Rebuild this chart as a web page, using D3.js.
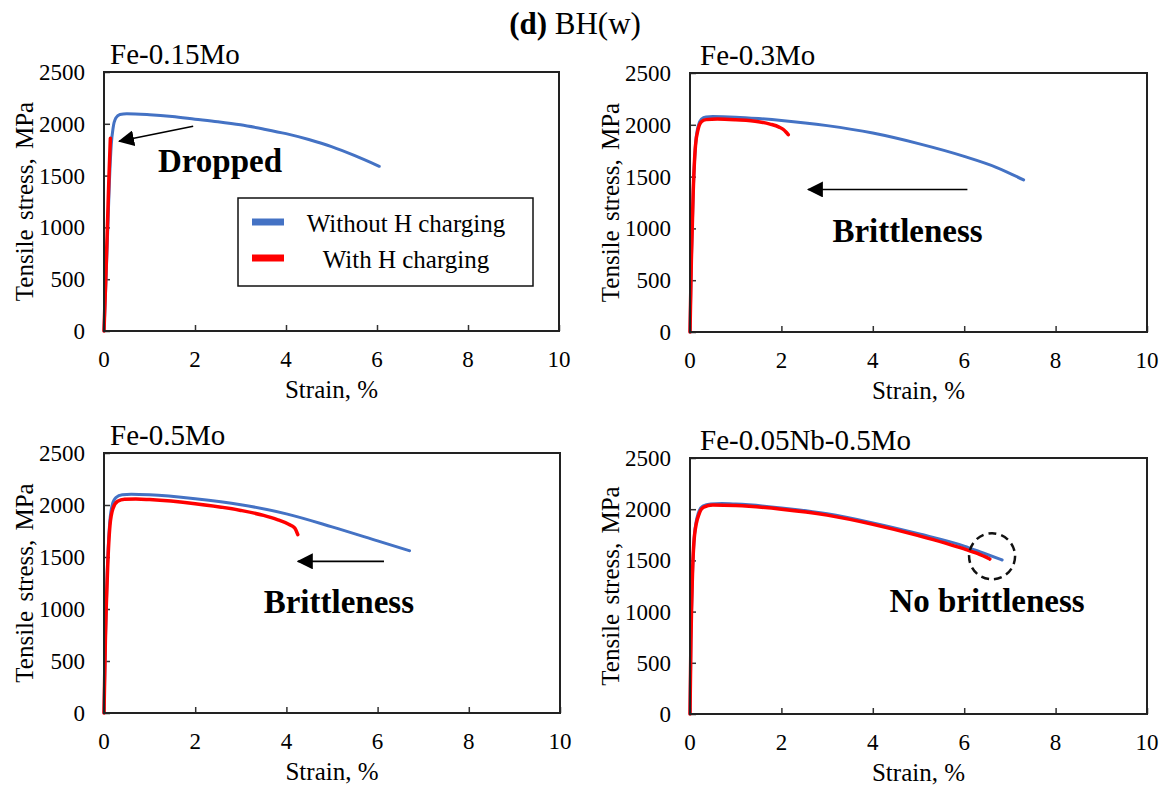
<!DOCTYPE html>
<html><head><meta charset="utf-8">
<script src="https://cdn.jsdelivr.net/npm/d3@7"></script>
<style>body{margin:0;background:#fff}svg{display:block}</style>
</head><body><svg id="c" width="1169" height="792"></svg>
<script>
// ---- data ----
const strainTicks = [0, 2, 4, 6, 8, 10];
const stressTicks = [0, 500, 1000, 1500, 2000, 2500];
const panelTitles = ["Fe-0.15Mo", "Fe-0.3Mo", "Fe-0.5Mo", "Fe-0.05Nb-0.5Mo"];
const seriesNames = ["Without H charging", "With H charging"];
const seriesColors = ["#4472C4", "#FF0000"];

// [strain %, stress MPa]
const mo015Without = [[0,0],[0.04,450],[0.08,950],[0.12,1450],[0.16,1800],[0.2,1960],[0.26,2055],[0.35,2090],[0.5,2098],[1,2088],[1.5,2070],[2,2045],[2.5,2020],[3,1990],[3.5,1950],[4,1905],[4.5,1848],[5,1780],[5.5,1695],[6.05,1590]];
const mo015With = [[0,0],[0.04,520],[0.08,1080],[0.11,1500],[0.14,1860]];

const mo03Without = [[0,0],[0.03,700],[0.07,1350],[0.12,1800],[0.18,1990],[0.25,2055],[0.35,2076],[0.5,2080],[1,2074],[1.5,2060],[2,2042],[3,1992],[4,1920],[5,1818],[6,1695],[6.7,1590],[7.3,1468]];
const mo03With = [[0,0],[0.03,700],[0.07,1350],[0.12,1800],[0.18,1960],[0.25,2030],[0.35,2050],[0.6,2055],[1,2048],[1.5,2030],[1.75,2007],[1.95,1978],[2.05,1952],[2.1,1930],[2.15,1905]];

const mo05Without = [[0,0],[0.03,700],[0.07,1350],[0.12,1800],[0.18,2000],[0.26,2070],[0.4,2098],[0.6,2103],[1,2098],[2,2060],[3,2003],[4,1915],[5,1790],[6,1655],[6.7,1560]];
const mo05With = [[0,0],[0.03,700],[0.08,1400],[0.13,1800],[0.2,1970],[0.3,2035],[0.45,2055],[0.7,2058],[1,2052],[2,2012],[3,1948],[3.5,1900],[3.8,1860],[4.05,1815],[4.18,1780],[4.25,1715]];

const nbMoWithout = [[0,0],[0.02,700],[0.05,1300],[0.1,1760],[0.18,1960],[0.28,2030],[0.45,2052],[0.7,2055],[1,2050],[2,2013],[3,1955],[4,1866],[5,1760],[6,1640],[6.4,1575],[6.83,1504]];
const nbMoWith = [[0,0],[0.02,700],[0.05,1300],[0.1,1750],[0.2,1955],[0.3,2020],[0.5,2040],[1,2035],[2,2000],[3,1942],[4,1852],[5,1742],[6,1612],[6.3,1565],[6.56,1513]];

// annotations (data units)
const notes = [
  {text: "Dropped", at: [2.55, 1530], arrow: [[1.96, 1977], [0.33, 1831]]},
  {text: "Brittleness", at: [4.76, 872], arrow: [[6.07, 1376], [2.58, 1376]]},
  {text: "Brittleness", at: [5.15, 965], arrow: [[6.14, 1458], [4.25, 1458]]},
  {text: "No brittleness", at: [6.5, 1000], circle: [6.61, 1540]}
];

// ---- layout ----
const boxes = [
  {left: 104, right: 559, top: 72, bottom: 331},
  {left: 690, right: 1147, top: 73, bottom: 332},
  {left: 104, right: 560, top: 453, bottom: 713},
  {left: 690, right: 1147, top: 458, bottom: 714}
];
const seriesByPanel = [
  [mo015Without, mo015With],
  [mo03Without, mo03With],
  [mo05Without, mo05With],
  [nbMoWithout, nbMoWith]
];

const FONT = "Liberation Serif";
const svg = d3.select("#c");
svg.append("rect").attr("width", 1169).attr("height", 792).attr("fill", "#fff");

const defs = svg.append("defs");
defs.append("marker").attr("id", "ah").attr("markerUnits", "userSpaceOnUse")
  .attr("viewBox", "0 0 16 16").attr("markerWidth", 16).attr("markerHeight", 16)
  .attr("refX", 15).attr("refY", 8).attr("orient", "auto")
  .append("path").attr("d", "M0,0 L16,8 L0,16 Z").attr("fill", "#000");

function txt(sel) { return sel.append("text").attr("font-family", FONT).attr("fill", "#000"); }

// main title
const t = txt(svg).attr("x", 575).attr("y", 34).attr("text-anchor", "middle").attr("font-size", 31);
t.append("tspan").attr("font-weight", "bold").text("(d)");
t.append("tspan").text(" BH(w)");

boxes.forEach((b, i) => {
  const x = d3.scaleLinear().domain([0, 10]).range([b.left, b.right]);
  const y = d3.scaleLinear().domain([0, 2500]).range([b.bottom, b.top]);
  const g = svg.append("g");

  // ticks inside
  g.append("g").attr("transform", `translate(0,${b.bottom})`)
    .call(d3.axisTop(x).tickValues(strainTicks).tickSize(6).tickFormat(""))
    .call(a => a.select(".domain").remove())
    .selectAll("line").attr("stroke", "#333").attr("stroke-width", 1.5);
  g.append("g").attr("transform", `translate(${b.left},0)`)
    .call(d3.axisRight(y).tickValues(stressTicks).tickSize(6).tickFormat(""))
    .call(a => a.select(".domain").remove())
    .selectAll("line").attr("stroke", "#333").attr("stroke-width", 1.5);

  // tick labels
  strainTicks.forEach(d => {
    txt(g).attr("x", x(d)).attr("y", b.bottom + 36).attr("text-anchor", "middle")
      .attr("font-size", 23).text(d);
  });
  stressTicks.forEach(d => {
    txt(g).attr("x", b.left - 19).attr("y", y(d) + 8).attr("text-anchor", "end")
      .attr("font-size", 23).text(d);
  });

  // axis titles
  txt(g).attr("x", (b.left + b.right) / 2).attr("y", b.bottom + 67)
    .attr("text-anchor", "middle").attr("font-size", 25).text("Strain, %");
  txt(g).attr("transform", `translate(${b.left - 71},${(b.top + b.bottom) / 2}) rotate(-90)`)
    .attr("text-anchor", "middle").attr("font-size", 25).attr("word-spacing", 3)
    .text("Tensile stress, MPa");

  // panel title
  txt(g).attr("x", b.left + (i % 2 ? 10 : 6)).attr("y", b.top - 8)
    .attr("font-size", 29).text(panelTitles[i]);

  // curves
  const line = d3.line().x(d => x(d[0])).y(d => y(d[1])).curve(d3.curveMonotoneX);
  seriesByPanel[i].forEach((s, k) => {
    g.append("path").attr("d", line(s)).attr("fill", "none")
      .attr("stroke", seriesColors[k]).attr("stroke-width", k ? 3.5 : 3)
      .attr("stroke-linejoin", "round").attr("stroke-linecap", "round");
  });

  // frame
  g.append("rect").attr("x", b.left).attr("y", b.top)
    .attr("width", b.right - b.left).attr("height", b.bottom - b.top)
    .attr("fill", "none").attr("stroke", "#222").attr("stroke-width", 2);

  // annotation
  const n = notes[i];
  txt(g).attr("x", x(n.at[0])).attr("y", y(n.at[1])).attr("text-anchor", "middle")
    .attr("font-size", 33).attr("font-weight", "bold").text(n.text);
  if (n.arrow) {
    g.append("line").attr("x1", x(n.arrow[0][0])).attr("y1", y(n.arrow[0][1]))
      .attr("x2", x(n.arrow[1][0])).attr("y2", y(n.arrow[1][1]))
      .attr("stroke", "#000").attr("stroke-width", 1.6).attr("marker-end", "url(#ah)");
  }
  if (n.circle) {
    g.append("circle").attr("cx", x(n.circle[0])).attr("cy", y(n.circle[1])).attr("r", 23)
      .attr("fill", "none").attr("stroke", "#111").attr("stroke-width", 2.5)
      .attr("stroke-dasharray", "8,5");
  }

  // legend in first panel
  if (i === 0) {
    const lg = g.append("g");
    lg.append("rect").attr("x", 238).attr("y", 198).attr("width", 295).attr("height", 88)
      .attr("fill", "#fff").attr("stroke", "#111").attr("stroke-width", 1.5);
    seriesNames.forEach((name, k) => {
      const yy = 222 + k * 36;
      lg.append("line").attr("x1", 252).attr("x2", 284).attr("y1", yy).attr("y2", yy)
        .attr("stroke", seriesColors[k]).attr("stroke-width", 7);
      txt(lg).attr("x", 406).attr("y", yy + 10).attr("text-anchor", "middle")
        .attr("font-size", 25).text(name);
    });
  }
});
</script></body></html>
